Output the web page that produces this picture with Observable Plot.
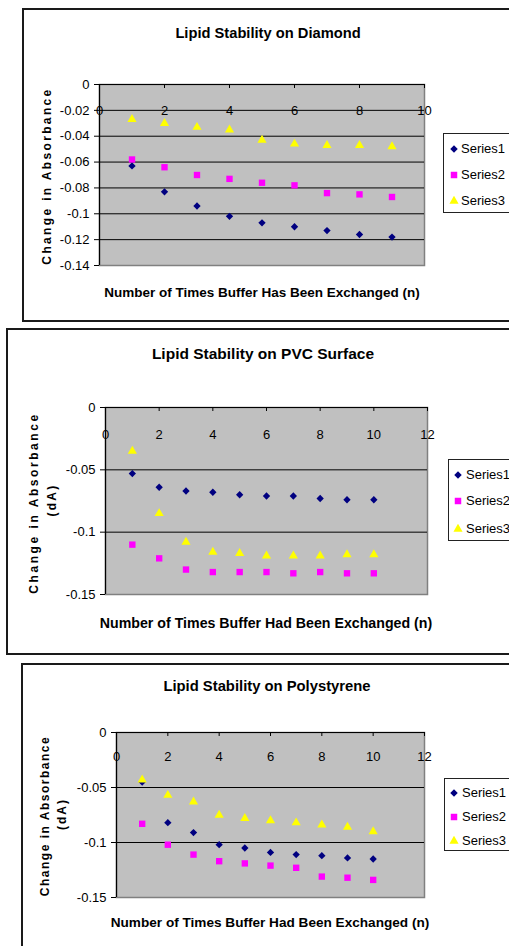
<!DOCTYPE html>
<html><head><meta charset="utf-8">
<script src="https://cdn.jsdelivr.net/npm/d3@7"></script>
<script src="https://cdn.jsdelivr.net/npm/@observablehq/plot@0.6"></script>
<style>
html,body{margin:0;padding:0;background:#fff;}
#root{position:relative;width:509px;height:946px;overflow:hidden;font-family:"Liberation Sans",Arial,sans-serif;color:#000;}
.box{position:absolute;border:2px solid #1a1a1a;box-sizing:border-box;}
.abs{position:absolute;white-space:nowrap;line-height:1;}
.title{font-weight:bold;transform:translate(-50%,-50%);}
.ylab{font-weight:bold;transform:translate(-50%,-50%) rotate(-90deg);}
.legend{position:absolute;border:1px solid #222;background:#fff;box-sizing:border-box;}
.plotwrap{position:absolute;left:0;}
.plotwrap svg{overflow:visible;}
</style></head><body><div id="root"></div><script>
// ---------- data ----------
const seriesNames = ["Series1", "Series2", "Series3"];
const seriesColors = ["#000080", "#FF00FF", "#FFFF00"];
const seriesSymbols = ["diamond2", "square", "triangle"];

// Panel 1: Diamond
const diamondTitle = "Lipid Stability on Diamond";
const diamondXTitle = "Number of Times Buffer Has Been Exchanged (n)";
const diamondYTitle = ["Change in Absorbance"];
const diamondN = [1, 2, 3, 4, 5, 6, 7, 8, 9];
const diamondS1 = [-0.063, -0.083, -0.094, -0.102, -0.107, -0.110, -0.113, -0.116, -0.118];
const diamondS2 = [-0.058, -0.064, -0.070, -0.073, -0.076, -0.078, -0.084, -0.085, -0.087];
const diamondS3 = [-0.027, -0.030, -0.033, -0.035, -0.043, -0.046, -0.047, -0.047, -0.048];
const diamondXTicks = [0, 2, 4, 6, 8, 10];
const diamondYTicks = [0, -0.02, -0.04, -0.06, -0.08, -0.1, -0.12, -0.14];

// Panel 2: PVC
const pvcTitle = "Lipid Stability on PVC Surface";
const pvcXTitle = "Number of Times Buffer Had Been Exchanged (n)";
const pvcYTitle = ["Change in Absorbance", "(dA)"];
const pvcN = [1, 2, 3, 4, 5, 6, 7, 8, 9, 10];
const pvcS1 = [-0.053, -0.064, -0.067, -0.068, -0.070, -0.071, -0.071, -0.073, -0.074, -0.074];
const pvcS2 = [-0.110, -0.121, -0.130, -0.132, -0.132, -0.132, -0.133, -0.132, -0.133, -0.133];
const pvcS3 = [-0.035, -0.085, -0.108, -0.116, -0.117, -0.119, -0.119, -0.119, -0.118, -0.118];
const pvcXTicks = [0, 2, 4, 6, 8, 10, 12];
const pvcYTicks = [0, -0.05, -0.1, -0.15];

// Panel 3: Polystyrene
const psTitle = "Lipid Stability on Polystyrene";
const psXTitle = "Number of Times Buffer Had Been Exchanged (n)";
const psYTitle = ["Change in Absorbance", "(dA)"];
const psN = [1, 2, 3, 4, 5, 6, 7, 8, 9, 10];
const psS1 = [-0.045, -0.082, -0.091, -0.102, -0.105, -0.109, -0.111, -0.112, -0.114, -0.115];
const psS2 = [-0.083, -0.102, -0.111, -0.117, -0.119, -0.121, -0.123, -0.131, -0.132, -0.134];
const psS3 = [-0.043, -0.057, -0.063, -0.075, -0.078, -0.080, -0.082, -0.084, -0.086, -0.090];
const psXTicks = [0, 2, 4, 6, 8, 10, 12];
const psYTicks = [0, -0.05, -0.1, -0.15];

// ---------- drawing ----------
const root = document.getElementById("root");
const FONT = '"Liberation Sans", Arial, sans-serif';

function el(cls, text, css) {
  const d = document.createElement("div");
  d.className = cls;
  if (text != null) d.textContent = text;
  Object.assign(d.style, css);
  root.appendChild(d);
  return d;
}

function symbolSvg(name, color, size) {
  const ns = "http://www.w3.org/2000/svg";
  const svg = document.createElementNS(ns, "svg");
  svg.setAttribute("width", 10); svg.setAttribute("height", 10);
  svg.setAttribute("viewBox", "-5 -5 10 10");
  svg.style.position = "absolute";
  const p = document.createElementNS(ns, "path");
  const sym = {diamond2: d3.symbolDiamond2, square: d3.symbolSquare, triangle: d3.symbolTriangle}[name];
  p.setAttribute("d", d3.symbol(sym, size)());
  p.setAttribute("fill", color);
  svg.appendChild(p);
  return svg;
}

function drawPanel(c) {
  // border box
  el("box", null, {left: c.box[0] + "px", top: c.box[1] + "px", width: c.box[2] + "px", height: c.box[3] + "px"});

  const svgTop = c.box[1], svgH = c.box[3];
  const series = [c.s1, c.s2, c.s3];
  const innerTicks = c.yTicks.filter(t => t !== c.yDomain[0] && t !== c.yDomain[1]);
  const plotH = c.plot[3] - c.plot[2];

  const marks = [
    Plot.frame({fill: "#c0c0c0", stroke: "#808080", strokeWidth: 1.5}),
    Plot.ruleY(innerTicks, {y: d => d, stroke: "#000", strokeWidth: 1}),
    Plot.ruleY([c.yDomain[1]], {y: d => d, stroke: "#000", strokeWidth: 1.2}),
    Plot.ruleX([c.xDomain[0]], {x: d => d, stroke: "#000", strokeWidth: 1.2}),
    Plot.axisY(c.yTicks, {tickSize: 5, tickPadding: 5, tickFormat: d => String(d), fontSize: 13, stroke: "#000"}),
    Plot.tickX(c.xTicks, {x: d => d, stroke: "#000", insetBottom: plotH - 4}),
    Plot.text(c.xTicks, {x: d => d, text: d => String(d), frameAnchor: "top", dy: c.xLabDy, fontSize: 13, fill: "#000"})
  ];
  series.forEach((s, k) => {
    marks.push(Plot.dot(c.n, {
      x: d => d, y: (d, i) => s[i],
      symbol: () => seriesSymbols[k], fill: seriesColors[k], stroke: "none",
      r: [3.3, 3.6, 3.4][k]
    }));
  });

  const chart = Plot.plot({
    width: 509, height: svgH,
    marginLeft: c.plot[0], marginRight: 509 - c.plot[1],
    marginTop: c.plot[2] - svgTop, marginBottom: svgTop + svgH - c.plot[3],
    x: {domain: c.xDomain, label: null, axis: null},
    y: {domain: c.yDomain, label: null, axis: null},
    symbol: {type: "identity"},
    style: {fontFamily: FONT, fontSize: "13px", color: "#000", background: "transparent", overflow: "visible"},
    marks
  });
  const wrap = el("plotwrap", null, {top: svgTop + "px"});
  wrap.appendChild(chart);

  // titles
  el("abs title", c.title, {left: c.titlePos[0] + "px", top: c.titlePos[1] + "px", fontSize: c.titlePos[2] + "px"});
  el("abs title", c.xTitle, {left: c.xTitlePos[0] + "px", top: c.xTitlePos[1] + "px", fontSize: c.xTitlePos[2] + "px"});
  c.yTitle.forEach((t, i) => {
    const p = c.yTitlePos[i];
    el("abs ylab", t, {left: p[0] + "px", top: p[1] + "px", fontSize: "12px", letterSpacing: p[2] + "px"});
  });

  // legend
  const lg = el("legend", null, {left: c.legend[0] + "px", top: c.legend[1] + "px", width: "80px", height: c.legend[2] + "px"});
  seriesNames.forEach((name, k) => {
    const cy = c.legendY[k];
    const s = symbolSvg(seriesSymbols[k], seriesColors[k], [36, 42, 36][k]);
    s.style.left = (c.legendMX - 5) + "px";
    s.style.top = (cy - 5) + "px";
    lg.appendChild(s);
    const t = document.createElement("div");
    t.className = "abs";
    t.textContent = name;
    Object.assign(t.style, {left: c.legendTX + "px", top: (cy - 7.5) + "px", fontSize: "13px"});
    lg.appendChild(t);
  });
}

drawPanel({
  box: [22, 8, 500, 314],
  plot: [99, 424, 84, 265],
  xDomain: [0, 10], yDomain: [-0.14, 0],
  xTicks: diamondXTicks, yTicks: diamondYTicks, xLabDy: 21,
  n: diamondN, s1: diamondS1, s2: diamondS2, s3: diamondS3,
  title: diamondTitle, titlePos: [268, 33, 14.7],
  xTitle: diamondXTitle, xTitlePos: [262, 293, 13.5],
  yTitle: diamondYTitle, yTitlePos: [[47, 176, 2.35]],
  legend: [443, 133, 80], legendY: [15, 41, 67], legendMX: 10, legendTX: 17
});

drawPanel({
  box: [6, 328, 520, 327],
  plot: [105, 427, 407, 594],
  xDomain: [0, 12], yDomain: [-0.15, 0],
  xTicks: pvcXTicks, yTicks: pvcYTicks, xLabDy: 22,
  n: pvcN, s1: pvcS1, s2: pvcS2, s3: pvcS3,
  title: pvcTitle, titlePos: [263, 354, 15.5],
  xTitle: pvcXTitle, xTitlePos: [266, 623, 14.2],
  yTitle: pvcYTitle, yTitlePos: [[33.5, 503, 2.55], [52, 500, 2.3]],
  legend: [448, 459, 82], legendY: [15, 41, 69], legendMX: 9, legendTX: 17
});

drawPanel({
  box: [21, 663, 500, 300],
  plot: [116, 424, 732, 897],
  xDomain: [0, 12], yDomain: [-0.15, 0],
  xTicks: psXTicks, yTicks: psYTicks, xLabDy: 19,
  n: psN, s1: psS1, s2: psS2, s3: psS3,
  title: psTitle, titlePos: [267, 686, 14.8],
  xTitle: psXTitle, xTitlePos: [270, 923, 13.6],
  yTitle: psYTitle, yTitlePos: [[45, 816, 1.5], [62, 814, 2]],
  legend: [444, 778, 73], legendY: [14, 38, 62], legendMX: 9, legendTX: 17
});
</script></body></html>
